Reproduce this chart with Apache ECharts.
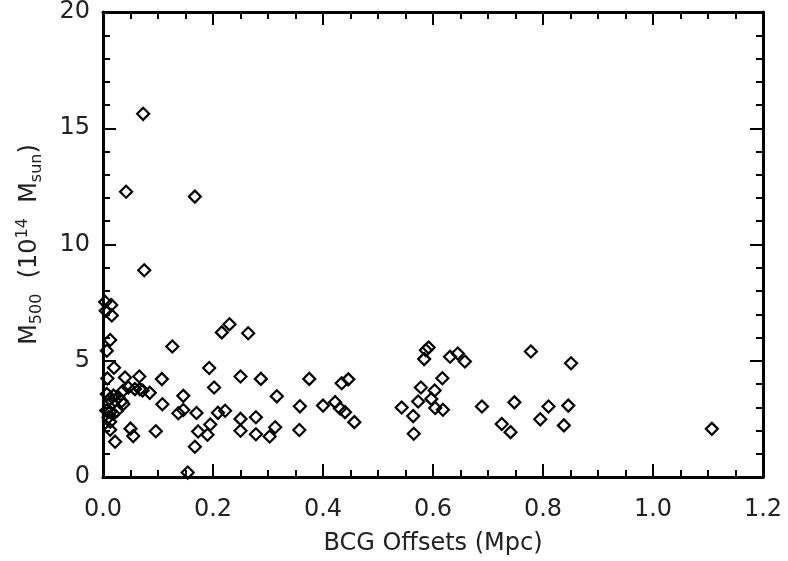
<!DOCTYPE html>
<html>
<head>
<meta charset="utf-8">
<script src="https://cdn.jsdelivr.net/npm/echarts@6/dist/echarts.min.js"></script>
<style>
  html, body { margin: 0; padding: 0; background: #fff; }
  #chart { width: 788px; height: 561px; }
</style>
</head>
<body>
<div id="chart"></div>
<script>
// BCG offset (Mpc) vs M500 (1e14 Msun)
var offsets = [
  0.004, 0.015, 0.005, 0.016, 0.013, 0.007, 0.020, 0.008, 0.040, 0.066,
  0.107, 0.126, 0.046, 0.058, 0.067, 0.072, 0.085, 0.036, 0.007, 0.019,
  0.028, 0.022, 0.034, 0.037, 0.012, 0.108, 0.006, 0.013, 0.019, 0.010,
  0.025, 0.013, 0.013, 0.022, 0.050, 0.055, 0.096, 0.146, 0.137, 0.146,
  0.170, 0.173, 0.167, 0.154, 0.193, 0.202, 0.216, 0.230, 0.264, 0.250,
  0.287, 0.316, 0.375, 0.209, 0.222, 0.250, 0.278, 0.195, 0.190, 0.250,
  0.278, 0.303, 0.313, 0.357, 0.358, 0.400, 0.422, 0.431, 0.440, 0.457,
  0.434, 0.446, 0.543, 0.564, 0.565, 0.573, 0.578, 0.584, 0.587, 0.592,
  0.597, 0.603, 0.604, 0.618, 0.617, 0.631, 0.645, 0.658, 0.689, 0.725,
  0.741, 0.748, 0.778, 0.795, 0.810, 0.846, 0.838, 0.851, 1.107, 0.073,
  0.042, 0.167, 0.075
];
var masses = [
  7.53, 7.40, 7.15, 6.95, 5.89, 5.43, 4.70, 4.24, 4.28, 4.32,
  4.21, 5.61, 3.85, 3.78, 3.78, 3.72, 3.62, 3.70, 3.57, 3.50,
  3.43, 3.29, 3.26, 3.14, 3.35, 3.13, 2.86, 2.79, 2.72, 2.57,
  2.84, 2.38, 2.03, 1.52, 2.08, 1.76, 1.97, 3.49, 2.74, 2.88,
  2.75, 1.96, 1.30, 0.19, 4.69, 3.85, 6.22, 6.57, 6.18, 4.32,
  4.22, 3.47, 4.22, 2.76, 2.85, 2.50, 2.57, 2.26, 1.82, 1.99,
  1.84, 1.74, 2.14, 2.02, 3.04, 3.07, 3.22, 2.95, 2.79, 2.36,
  4.03, 4.20, 2.99, 2.62, 1.86, 3.25, 3.85, 5.07, 5.45, 5.57,
  3.36, 3.72, 2.97, 2.89, 4.25, 5.17, 5.31, 4.97, 3.03, 2.28,
  1.93, 3.21, 5.40, 2.48, 3.03, 3.07, 2.22, 4.89, 2.07, 15.62,
  12.27, 12.06, 8.89
];
var xTicks = [0, 0.2, 0.4, 0.6, 0.8, 1.0, 1.2];
var yTicks = [0, 5, 10, 15, 20];

var points = offsets.map(function (x, i) {
  return [x, masses[i]];
});

var chart = echarts.init(document.getElementById('chart'));

var labelFont = {
  fontFamily: 'DejaVu Sans',
  fontSize: 24,
  color: '#222'
};

function boxAxis(min, max, interval, minorSplit, position, showLabel, fmt) {
  return {
    type: 'value',
    position: position,
    min: min,
    max: max,
    interval: interval,
    axisLine: { show: true, onZero: false, lineStyle: { color: '#000', width: 3 } },
    axisTick: { show: true, inside: true, length: 13, lineStyle: { color: '#000', width: 2 } },
    minorTick: { show: true, splitNumber: minorSplit, length: 7, lineStyle: { color: '#000', width: 2 } },
    splitLine: { show: false },
    axisLabel: Object.assign({ show: showLabel, formatter: fmt }, labelFont)
  };
}

var xBottom = boxAxis(xTicks[0], xTicks[xTicks.length - 1], 0.2, 4, 'bottom', true, function (v) {
  return v.toFixed(1);
});
xBottom.axisLabel.margin = 21;
xBottom.name = 'BCG Offsets (Mpc)';
xBottom.nameLocation = 'middle';
xBottom.nameGap = 55;
xBottom.nameTextStyle = labelFont;

var yLeft = boxAxis(yTicks[0], yTicks[yTicks.length - 1], 5, 5, 'left', true, function (v) {
  return String(v);
});
yLeft.axisLabel.margin = 13;
yLeft.name = '{n|M}{sub|500}{n|  (10}{sup|14}{n|  M}{sub|sun}{n|)}';
yLeft.nameLocation = 'middle';
yLeft.nameGap = 58;
yLeft.nameTextStyle = {
  rich: {
    n: { fontFamily: 'DejaVu Sans', fontSize: 24, color: '#222', lineHeight: 30 },
    sub: { fontFamily: 'DejaVu Sans', fontSize: 16, color: '#222', lineHeight: 15, verticalAlign: 'bottom' },
    sup: { fontFamily: 'DejaVu Sans', fontSize: 16, color: '#222', lineHeight: 15, verticalAlign: 'top' }
  }
};

var option = {
  backgroundColor: '#fff',
  animation: false,
  grid: { left: 103, right: 25, top: 10, bottom: 84 },
  xAxis: [
    xBottom,
    boxAxis(xTicks[0], xTicks[xTicks.length - 1], 0.2, 4, 'top', false)
  ],
  yAxis: [
    yLeft,
    boxAxis(yTicks[0], yTicks[yTicks.length - 1], 5, 5, 'right', false)
  ],
  series: [{
    type: 'scatter',
    data: points,
    symbol: 'diamond',
    symbolSize: 12,
    itemStyle: {
      color: 'rgba(0,0,0,0)',
      borderColor: '#000',
      borderWidth: 2.2,
      opacity: 1
    }
  }]
};

chart.setOption(option);
window.addEventListener('resize', chart.resize);
</script>
</body>
</html>
